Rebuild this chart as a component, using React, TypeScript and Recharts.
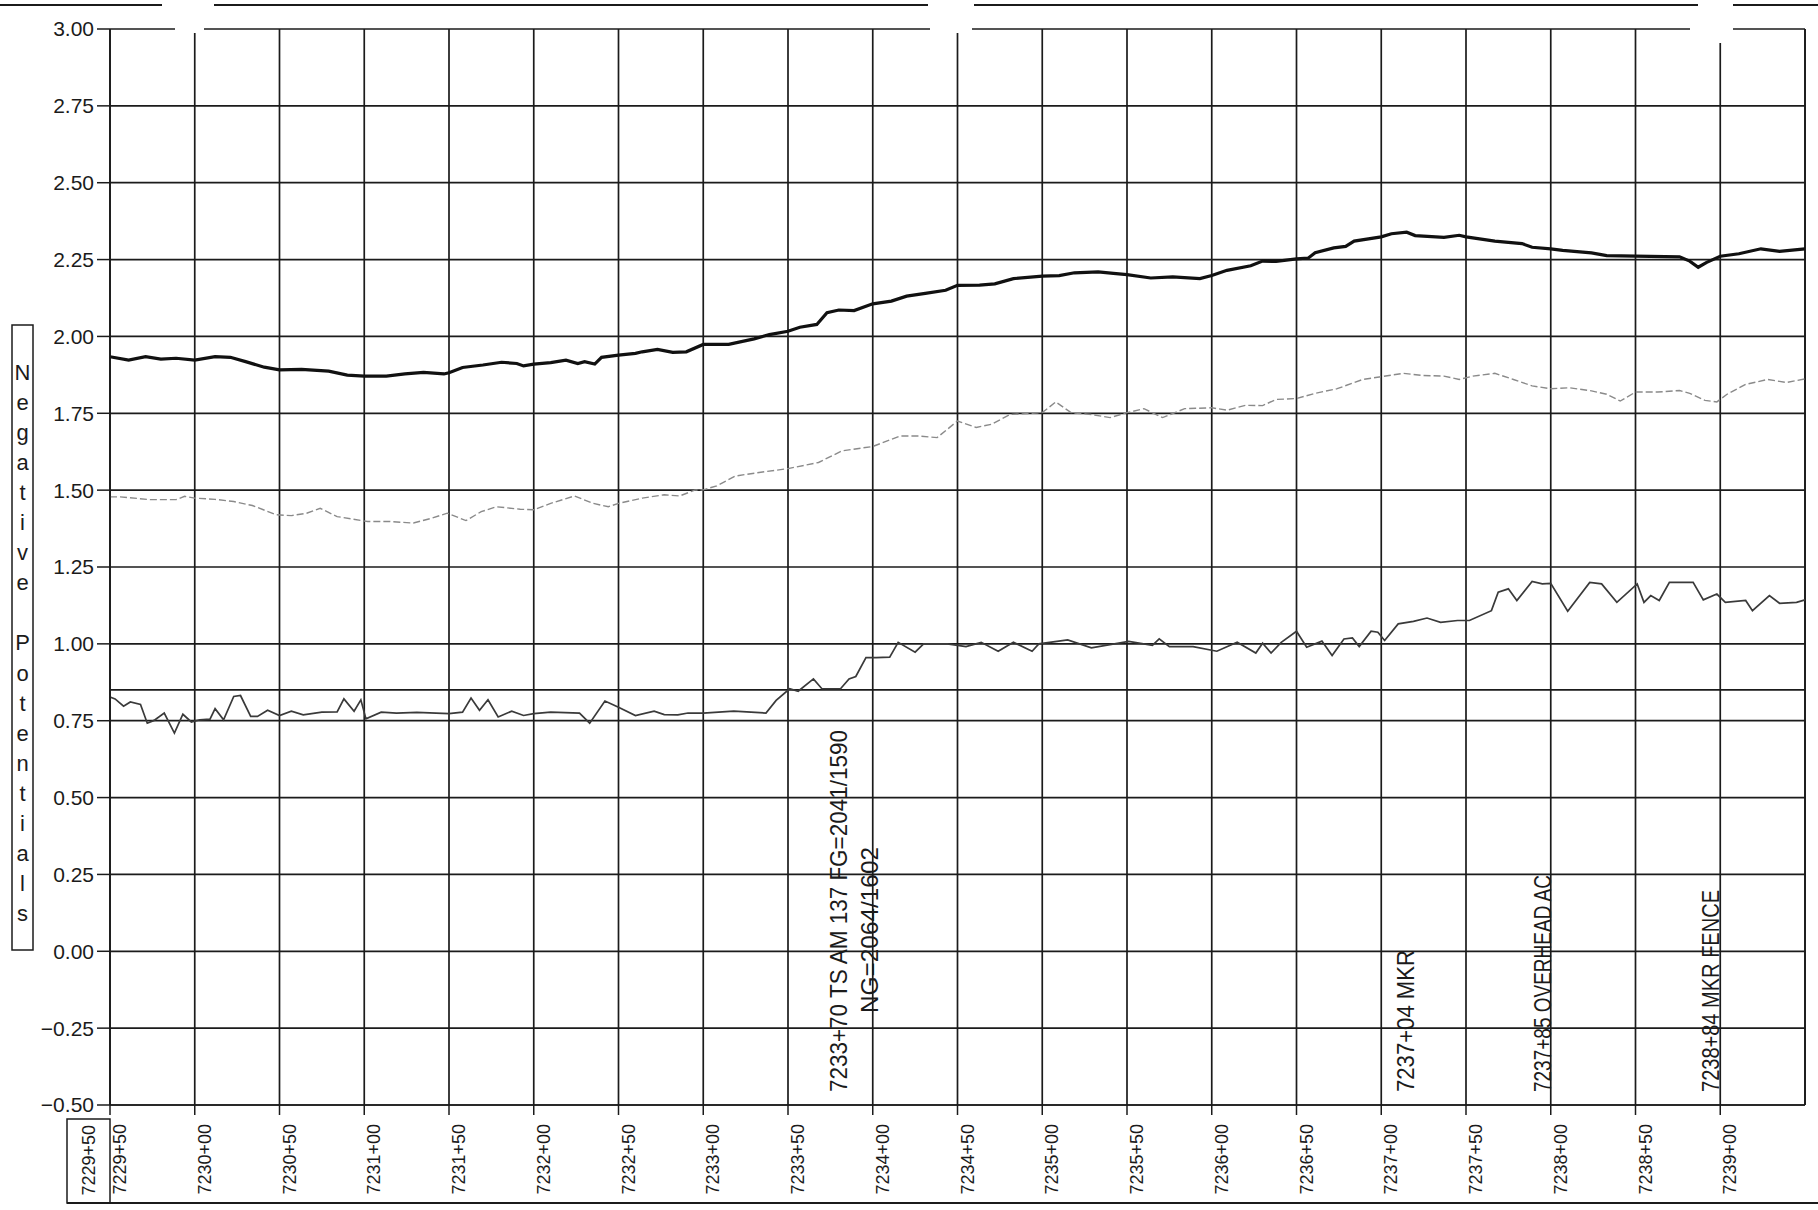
import { LineChart, Line, XAxis, YAxis, CartesianGrid, ReferenceLine } from 'recharts'

// stations are in feet (7229+50 = 722950)
const stationTicks = [
  722950, 723000, 723050, 723100, 723150, 723200, 723250, 723300, 723350, 723400,
  723450, 723500, 723550, 723600, 723650, 723700, 723750, 723800, 723850, 723900,
]
const stationLabels = [
  '7229+50', '7230+00', '7230+50', '7231+00', '7231+50', '7232+00', '7232+50', '7233+00', '7233+50', '7234+00',
  '7234+50', '7235+00', '7235+50', '7236+00', '7236+50', '7237+00', '7237+50', '7238+00', '7238+50', '7239+00',
]
const startStation = '7229+50'

const potentialTicks = [-0.5, -0.25, 0, 0.25, 0.5, 0.75, 1, 1.25, 1.5, 1.75, 2, 2.25, 2.5, 2.75, 3]
const potentialLabels = [
  '\u22120.50', '\u22120.25', '0.00', '0.25', '0.50', '0.75', '1.00', '1.25',
  '1.50', '1.75', '2.00', '2.25', '2.50', '2.75', '3.00',
]
const criterion = 0.85
const axisTitle = 'Negative Potentials'

// [station, volts]
const onReadings: [number, number][] = [
  [722950, 1.934], [722961, 1.923], [722971, 1.934], [722980, 1.926], [722989, 1.929],
  [723000, 1.923], [723012, 1.934], [723021, 1.932], [723030, 1.918], [723041, 1.9],
  [723050, 1.891], [723063, 1.893], [723079, 1.887], [723090, 1.874], [723100, 1.871],
  [723113, 1.871], [723124, 1.878], [723135, 1.883], [723147, 1.878], [723150, 1.882],
  [723158, 1.899], [723170, 1.907], [723181, 1.916], [723190, 1.912], [723194, 1.904],
  [723200, 1.91], [723210, 1.915], [723219, 1.923], [723226, 1.912], [723230, 1.918],
  [723236, 1.91], [723240, 1.932], [723250, 1.939], [723260, 1.945], [723264, 1.95],
  [723273, 1.958], [723282, 1.948], [723290, 1.95], [723300, 1.974], [723315, 1.974],
  [723330, 1.992], [723339, 2.006], [723350, 2.017], [723357, 2.03], [723367, 2.039],
  [723373, 2.077], [723380, 2.086], [723389, 2.084], [723400, 2.106], [723411, 2.115],
  [723420, 2.131], [723431, 2.14], [723443, 2.15], [723450, 2.166], [723463, 2.167],
  [723472, 2.171], [723483, 2.188], [723500, 2.196], [723510, 2.198], [723519, 2.207],
  [723533, 2.21], [723542, 2.205], [723550, 2.201], [723564, 2.19], [723577, 2.194],
  [723593, 2.188], [723600, 2.198], [723609, 2.215], [723623, 2.23], [723630, 2.245],
  [723638, 2.244], [723650, 2.252], [723657, 2.255], [723661, 2.272], [723672, 2.288],
  [723679, 2.293], [723684, 2.31], [723700, 2.324], [723706, 2.334], [723715, 2.339],
  [723720, 2.328], [723737, 2.322], [723746, 2.329], [723750, 2.324], [723767, 2.31],
  [723783, 2.302], [723789, 2.29], [723800, 2.285], [723807, 2.28], [723824, 2.272],
  [723833, 2.263], [723850, 2.261], [723876, 2.259], [723882, 2.245], [723887, 2.225],
  [723892, 2.241], [723900, 2.261], [723911, 2.269], [723924, 2.285], [723935, 2.277],
  [723950, 2.285],
]

const midReadings: [number, number][] = [
  [722950, 1.478], [722956, 1.478], [722974, 1.469], [722989, 1.469], [722994, 1.48],
  [723000, 1.474], [723012, 1.47], [723023, 1.463], [723034, 1.45], [723048, 1.42],
  [723057, 1.417], [723066, 1.425], [723074, 1.441], [723084, 1.414], [723093, 1.406],
  [723102, 1.398], [723115, 1.398], [723129, 1.393], [723140, 1.409], [723149, 1.425],
  [723160, 1.401], [723169, 1.43], [723178, 1.446], [723192, 1.438], [723200, 1.436],
  [723210, 1.457], [723224, 1.481], [723235, 1.457], [723244, 1.446], [723250, 1.457],
  [723264, 1.474], [723277, 1.485], [723286, 1.481], [723295, 1.5], [723300, 1.501],
  [723308, 1.514], [723319, 1.546], [723335, 1.559], [723350, 1.57], [723368, 1.59],
  [723382, 1.628], [723400, 1.642], [723416, 1.676], [723427, 1.676], [723438, 1.671],
  [723450, 1.725], [723461, 1.704], [723470, 1.714], [723481, 1.746], [723500, 1.752],
  [723508, 1.787], [723517, 1.752], [723529, 1.746], [723540, 1.736], [723550, 1.752],
  [723560, 1.765], [723571, 1.736], [723584, 1.765], [723600, 1.768], [723609, 1.76],
  [723620, 1.776], [723630, 1.775], [723638, 1.795], [723650, 1.798], [723661, 1.815],
  [723674, 1.83], [723689, 1.86], [723700, 1.869], [723713, 1.88], [723724, 1.873],
  [723737, 1.871], [723746, 1.86], [723754, 1.871], [723767, 1.88], [723778, 1.86],
  [723789, 1.839], [723800, 1.83], [723811, 1.833], [723824, 1.823], [723833, 1.812],
  [723841, 1.79], [723850, 1.819], [723863, 1.819], [723876, 1.824], [723882, 1.815],
  [723891, 1.792], [723898, 1.787], [723904, 1.812], [723915, 1.844], [723928, 1.86],
  [723939, 1.85], [723950, 1.862],
]

const offReadings: [number, number][] = [
  [722950, 0.827], [722953, 0.821], [722958, 0.797], [722962, 0.811], [722968, 0.803],
  [722972, 0.742], [722976, 0.751], [722982, 0.775], [722988, 0.71], [722993, 0.771],
  [722998, 0.746], [723003, 0.753], [723009, 0.755], [723012, 0.789], [723017, 0.753],
  [723023, 0.829], [723027, 0.832], [723033, 0.764], [723037, 0.764], [723043, 0.784],
  [723050, 0.767], [723057, 0.781], [723064, 0.769], [723075, 0.778], [723084, 0.779],
  [723088, 0.821], [723094, 0.781], [723098, 0.818], [723101, 0.756], [723110, 0.778],
  [723119, 0.775], [723131, 0.777], [723150, 0.773], [723158, 0.778], [723163, 0.824],
  [723168, 0.784], [723173, 0.818], [723179, 0.762], [723187, 0.781], [723194, 0.767],
  [723200, 0.773], [723210, 0.778], [723227, 0.775], [723233, 0.742], [723242, 0.814],
  [723250, 0.794], [723260, 0.767], [723271, 0.781], [723277, 0.77], [723285, 0.769],
  [723291, 0.775], [723300, 0.775], [723318, 0.781], [723337, 0.775], [723343, 0.816],
  [723351, 0.854], [723356, 0.846], [723365, 0.886], [723370, 0.854], [723381, 0.854],
  [723386, 0.886], [723390, 0.894], [723396, 0.955], [723402, 0.955], [723410, 0.957],
  [723415, 1.005], [723425, 0.973], [723430, 1.0], [723444, 1.0], [723455, 0.991],
  [723464, 1.005], [723474, 0.976], [723483, 1.005], [723494, 0.976], [723498, 1.0],
  [723515, 1.013], [723529, 0.987], [723551, 1.008], [723565, 0.995], [723569, 1.016],
  [723575, 0.991], [723589, 0.991], [723603, 0.976], [723615, 1.005], [723626, 0.97],
  [723630, 1.002], [723635, 0.97], [723641, 1.005], [723650, 1.041], [723656, 0.989],
  [723665, 1.009], [723671, 0.962], [723678, 1.016], [723683, 1.019], [723687, 0.991],
  [723694, 1.041], [723698, 1.038], [723702, 1.011], [723710, 1.065], [723719, 1.073],
  [723727, 1.084], [723735, 1.07], [723745, 1.076], [723752, 1.076], [723765, 1.108],
  [723769, 1.168], [723775, 1.179], [723780, 1.141], [723789, 1.203], [723795, 1.195],
  [723800, 1.197], [723810, 1.106], [723823, 1.2], [723830, 1.195], [723839, 1.135],
  [723851, 1.195], [723855, 1.135], [723859, 1.157], [723864, 1.141], [723870, 1.2],
  [723884, 1.2], [723890, 1.143], [723898, 1.162], [723903, 1.135], [723915, 1.141],
  [723919, 1.108], [723929, 1.157], [723935, 1.132], [723945, 1.135], [723950, 1.143],
]

const noteStations = [723370, 723704, 723785, 723884]
const noteTexts = [
  ['7233+70 TS AM 137 FG=2041/1590', 'NG=2064/1602'],
  ['7237+04 MKR'],
  ['7237+85 OVERHEAD AC'],
  ['7238+84 MKR FENCE'],
]

const toRows = (r: [number, number][]) => r.map(([x, v]) => ({ x, v }))

const FONT = "'Liberation Sans', Arial, sans-serif"
const INK = '#1b1b1b'
const LEFT_EDGE = 722950
const RIGHT_EDGE = 723950

// lengths of the rotated notes as they appear on the sheet
const noteLength: Record<string, number> = {
  '7233+70 TS AM 137 FG=2041/1590': 362,
  'NG=2064/1602': 166,
  '7237+04 MKR': 142,
  '7237+85 OVERHEAD AC': 217,
  '7238+84 MKR FENCE': 202,
}

function StationTick(props: any) {
  const { x, y, payload } = props
  const label = stationLabels[stationTicks.indexOf(payload.value)]
  const cx = x + 10
  const ty = y + 7
  return (
    <text
      x={cx}
      y={ty}
      transform={`rotate(-90 ${cx} ${ty})`}
      textAnchor="end"
      dominantBaseline="central"
      fontFamily={FONT}
      fontSize={18}
      fill={INK}
    >
      {label}
    </text>
  )
}

function NoteLabel(props: any) {
  const { viewBox, lines } = props
  if (!viewBox) return null
  const bottom = viewBox.y + viewBox.height
  return (
    <g>
      {lines.map((t: string, i: number) => {
        const cx = viewBox.x + 17 + i * 31
        const ty = bottom - (i === 0 ? 13 : 92)
        return (
          <text
            key={t}
            x={cx}
            y={ty}
            transform={`rotate(-90 ${cx} ${ty})`}
            dominantBaseline="central"
            textLength={noteLength[t]}
            lengthAdjust="spacingAndGlyphs"
            fontFamily={FONT}
            fontSize={24}
            fill={INK}
          >
            {t}
          </text>
        )
      })}
    </g>
  )
}

export default function App() {
  const letters = axisTitle.split('')
  return (
    <div style={{ position: 'absolute', left: 0, top: 0, width: 1818, height: 1210, background: '#fff' }}>
      <LineChart width={1818} height={1210} margin={{ top: 29, right: 13, bottom: 0, left: 0 }}>
        <CartesianGrid stroke={INK} strokeWidth={1.7} />
        <XAxis
          dataKey="x"
          type="number"
          domain={[LEFT_EDGE, RIGHT_EDGE]}
          ticks={stationTicks}
          interval={0}
          height={105}
          tickSize={10}
          tick={<StationTick />}
          axisLine={{ stroke: INK, strokeWidth: 1.7 }}
          tickLine={{ stroke: INK, strokeWidth: 1.5 }}
        />
        <YAxis
          type="number"
          domain={[-0.5, 3]}
          ticks={potentialTicks}
          interval={0}
          width={110}
          tickSize={13}
          tickMargin={3}
          tickFormatter={(v: number) => potentialLabels[potentialTicks.indexOf(v)]}
          tick={{ fontFamily: FONT, fontSize: 21, fill: INK }}
          axisLine={{ stroke: INK, strokeWidth: 1.7 }}
          tickLine={{ stroke: INK, strokeWidth: 1.5 }}
        />
        <ReferenceLine y={criterion} stroke={INK} strokeWidth={1.7} />
        <ReferenceLine x={RIGHT_EDGE} stroke={INK} strokeWidth={1.7} />
        {noteStations.map((s, i) => (
          <ReferenceLine
            key={s}
            x={s}
            stroke="none"
            label={(p: any) => <NoteLabel {...p} lines={noteTexts[i]} />}
          />
        ))}
        <Line
          data={toRows(midReadings)}
          dataKey="v"
          type="linear"
          stroke="#8a8a8a"
          strokeWidth={1.4}
          strokeDasharray="7 3"
          dot={false}
          isAnimationActive={false}
        />
        <Line
          data={toRows(offReadings)}
          dataKey="v"
          type="linear"
          stroke="#3a3a3a"
          strokeWidth={1.7}
          dot={false}
          isAnimationActive={false}
        />
        <Line
          data={toRows(onReadings)}
          dataKey="v"
          type="linear"
          stroke="#111"
          strokeWidth={3.2}
          dot={false}
          isAnimationActive={false}
        />
      </LineChart>

      <svg
        width={1818}
        height={1210}
        style={{ position: 'absolute', left: 0, top: 0, pointerEvents: 'none' }}
      >
        {/* torn spots along the top of the sheet */}
        <rect x={175} y={20} width={29} height={13} fill="#fff" />
        <rect x={930} y={20} width={42} height={13} fill="#fff" />
        <rect x={1690} y={20} width={43} height={23} fill="#fff" />
        <g stroke={INK} strokeWidth={2}>
          <line x1={0} y1={5} x2={162} y2={5} />
          <line x1={214} y1={5} x2={928} y2={5} />
          <line x1={974} y1={5} x2={1698} y2={5} />
          <line x1={1733} y1={5} x2={1818} y2={5} />
          <line x1={67} y1={1203} x2={1818} y2={1203} />
        </g>

        {/* boxed axis title, one letter per line */}
        <rect x={12} y={325} width={21} height={625} fill="none" stroke={INK} strokeWidth={1.5} />
        {letters.map((ch, i) =>
          ch === ' ' ? null : (
            <text
              key={i}
              x={22.5}
              y={372 + i * 30.1}
              textAnchor="middle"
              dominantBaseline="central"
              fontFamily={FONT}
              fontSize={22}
              fill={INK}
            >
              {ch}
            </text>
          )
        )}

        {/* boxed start station */}
        <rect x={67} y={1119} width={43} height={84} fill="none" stroke={INK} strokeWidth={1.5} />
        <text
          x={89}
          y={1125}
          transform="rotate(-90 89 1125)"
          textAnchor="end"
          dominantBaseline="central"
          fontFamily={FONT}
          fontSize={18}
          fill={INK}
        >
          {startStation}
        </text>
      </svg>
    </div>
  )
}
